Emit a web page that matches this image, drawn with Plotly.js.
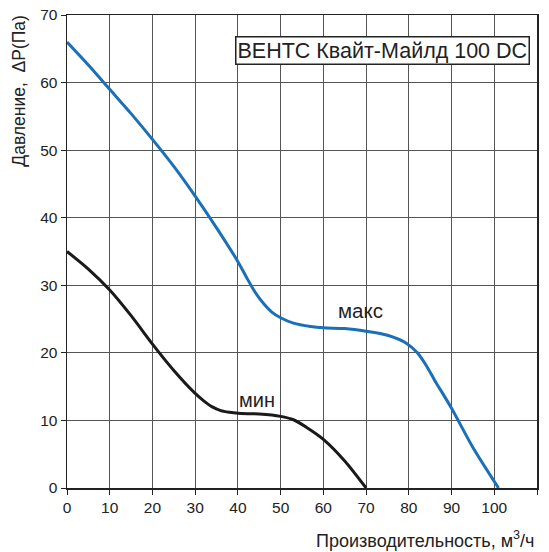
<!DOCTYPE html>
<html>
<head>
<meta charset="utf-8">
<script src="https://cdn.plot.ly/plotly-3.0.1.min.js"></script>
<style>html,body{margin:0;padding:0;background:#fff}#chart{width:549px;height:552px}</style>
</head>
<body>
<div id="chart"></div>
<script>
var maxX = [0, 5, 10, 15, 20, 25, 30, 35, 40, 42, 44, 46, 48, 50, 53, 57, 60, 65, 70, 75, 79.5, 82, 84, 86, 90, 95, 101];
var maxY = [66, 62.6, 59, 55.4, 51.6, 47.6, 43.2, 38.5, 33.5, 31.2, 29.0, 27.3, 26.0, 25.2, 24.4, 23.9, 23.7, 23.6, 23.2, 22.6, 21.4, 20, 18.2, 16, 11.8, 6, 0];
var minX = [0, 5, 10, 15, 20, 25, 30, 32, 34, 36, 38, 40, 45, 50, 53, 56, 60, 65, 70];
var minY = [35, 32.4, 29.3, 25.5, 21.3, 17.4, 14, 12.9, 12.0, 11.45, 11.2, 11.05, 10.95, 10.6, 10.1, 9.0, 7.2, 4, 0];
var xTicks = [0, 10, 20, 30, 40, 50, 60, 70, 80, 90, 100, 110];
var yTicks = [0, 10, 20, 30, 40, 50, 60, 70];
var chartTitle = "ВЕНТС Квайт-Майлд 100 DC";
var xTitle = "Производительность, м<sup>3</sup>/ч";
var yTitle = "Давление,\u00a0\u00a0ΔP(Па)";
var labelMax = "макс";
var labelMin = "мин";

var font = "Liberation Sans, Arial, sans-serif";

var traces = [
  {x: maxX, y: maxY, mode: "lines", line: {color: "#1a70b8", width: 3, shape: "spline", smoothing: 0.8}, hoverinfo: "skip"},
  {x: minX, y: minY, mode: "lines", line: {color: "#1a1a1a", width: 3, shape: "spline", smoothing: 0.8}, hoverinfo: "skip"}
];

var layout = {
  width: 549, height: 552,
  margin: {l: 67, r: 12, t: 15, b: 64},
  paper_bgcolor: "#fff", plot_bgcolor: "#fff",
  showlegend: false,
  font: {family: font, size: 15, color: "#222"},
  xaxis: {
    range: [0, 110], tickvals: xTicks, ticktext: xTicks.map(String),
    showgrid: true, gridcolor: "#555", gridwidth: 1,
    showline: true, linecolor: "#222", linewidth: 1.5, mirror: true,
    ticks: "outside", ticklen: 5, tickcolor: "#222",
    zeroline: false, tickfont: {size: 15.5, family: font, color: "#222"}, fixedrange: true
  },
  yaxis: {
    range: [0, 70], tickvals: yTicks, ticktext: yTicks.map(String),
    showgrid: true, gridcolor: "#555", gridwidth: 1,
    showline: true, linecolor: "#222", linewidth: 1.5, mirror: true,
    ticks: "outside", ticklen: 5, tickcolor: "#222",
    zeroline: false, tickfont: {size: 15.5, family: font, color: "#222"}, fixedrange: true
  },
  annotations: [
    {text: chartTitle, xref: "paper", yref: "paper", x: 0.985, y: 0.924, xanchor: "right", yanchor: "middle",
     showarrow: false, font: {size: 21.5, family: font, color: "#222"}, bgcolor: "#fff", bordercolor: "#222", borderwidth: 1.5, borderpad: 1},
    {text: labelMax, x: 68.6, y: 26.2, xref: "x", yref: "y", showarrow: false, font: {size: 20.5, family: font, color: "#222"}},
    {text: labelMin, x: 44.5, y: 13.0, xref: "x", yref: "y", showarrow: false, font: {size: 20, family: font, color: "#222"}},
    {text: xTitle, xref: "paper", yref: "paper", x: 1.0, y: -0.08, xanchor: "right", yanchor: "top", showarrow: false,
     font: {size: 18, family: font, color: "#222"}},
    {text: yTitle, xref: "paper", yref: "paper", x: 0, y: 1.005, xanchor: "center", yanchor: "top", textangle: -90, showarrow: false,
     xshift: -48, font: {size: 17.5, family: font, color: "#222"}}
  ]
};

Plotly.newPlot("chart", traces, layout, {displayModeBar: false, staticPlot: true});
</script>
</body>
</html>
